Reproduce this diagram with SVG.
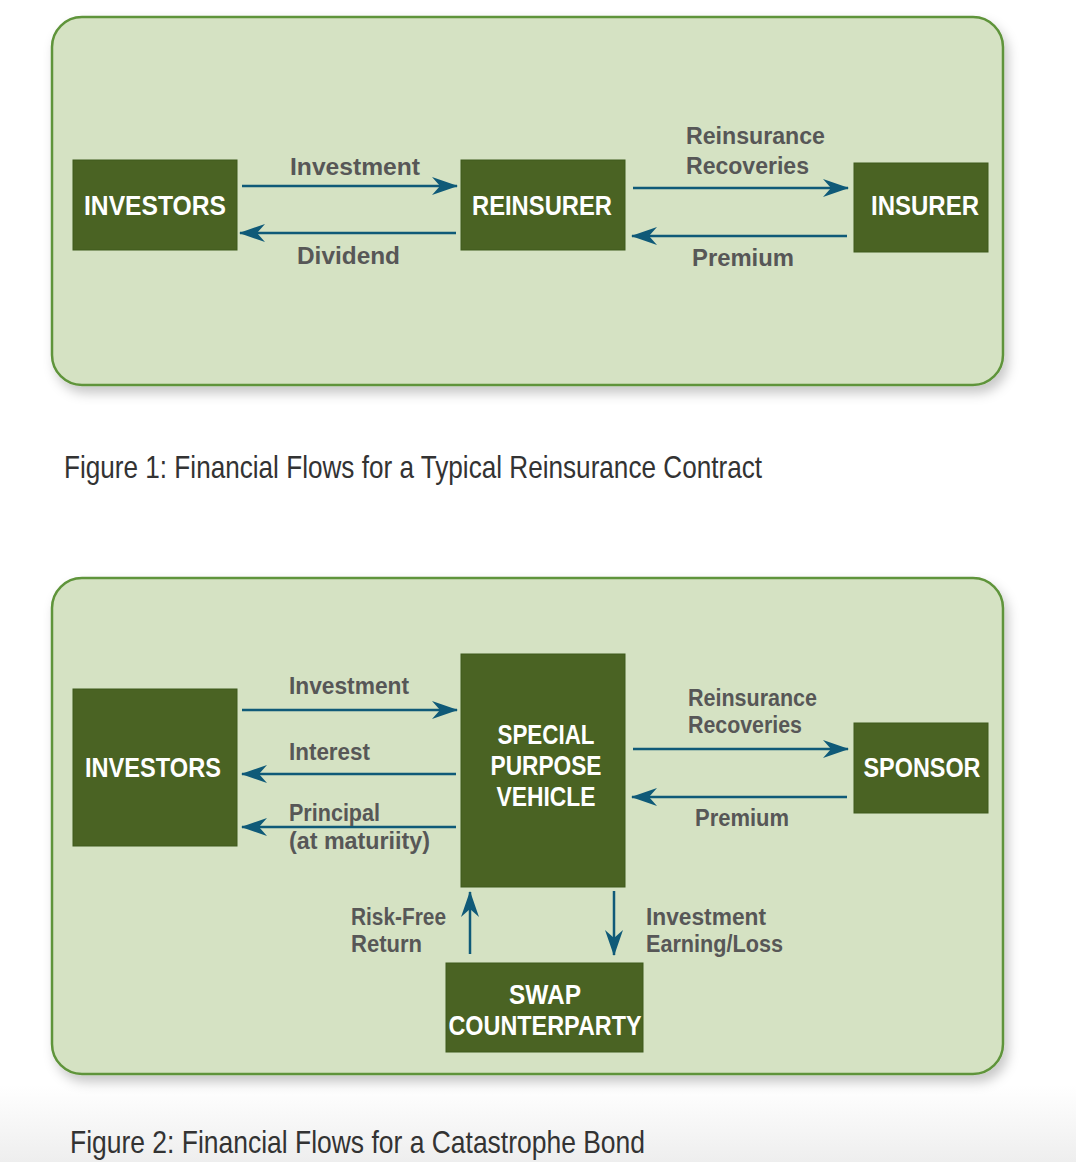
<svg xmlns="http://www.w3.org/2000/svg" width="1076" height="1162" viewBox="0 0 1076 1162">
<defs>
<linearGradient id="bg" x1="0" y1="0" x2="0" y2="1">
<stop offset="0" stop-color="#ffffff"/>
<stop offset="1" stop-color="#eeeeee"/>
</linearGradient>
<filter id="sh" x="-5%" y="-5%" width="112%" height="120%">
<feDropShadow dx="4" dy="7" stdDeviation="6" flood-color="#000" flood-opacity="0.22"/>
</filter>
<marker id="ah" viewBox="0 0 26 18" refX="25" refY="9" markerWidth="26" markerHeight="18" markerUnits="userSpaceOnUse" orient="auto">
<path d="M0,0 L26,9 L0,18 L8,9 Z" fill="#0f5a78"/>
</marker>
<style>
.panel{fill:#d5e2c3;stroke:#5f943a;stroke-width:2.5}
.node{fill:#4a6323;stroke:#3f5a1c;stroke-width:1}
.nt{font-family:"Liberation Sans","Open Sans",sans-serif;font-weight:bold;font-size:27px;fill:#ffffff;text-anchor:middle;dominant-baseline:central}
.lb{font-family:"Liberation Sans","Open Sans",sans-serif;font-weight:bold;font-size:23px;fill:#575757}
.cap{font-family:"Liberation Sans","Open Sans",sans-serif;font-size:32px;fill:#333333}
.ar{stroke:#0f5a78;stroke-width:2.5;fill:none;marker-end:url(#ah)}
</style>
</defs>
<rect x="0" y="0" width="1076" height="1162" fill="#ffffff"/>
<rect x="0" y="1085" width="1076" height="77" fill="url(#bg)"/>

<rect class="panel" x="52" y="17" width="951" height="368" rx="30" filter="url(#sh)"/>
<rect class="panel" x="52" y="578" width="951" height="496" rx="30" filter="url(#sh)"/>

<g id="connectors">
<line class="ar" x1="242" y1="186" x2="457" y2="186"/>
<line class="ar" x1="456" y1="233" x2="240" y2="233"/>
<line class="ar" x1="633" y1="188" x2="848" y2="188"/>
<line class="ar" x1="847" y1="236" x2="632" y2="236"/>

<line class="ar" x1="242" y1="710" x2="457" y2="710"/>
<line class="ar" x1="456" y1="774" x2="242" y2="774"/>
<line class="ar" x1="456" y1="827" x2="242" y2="827"/>
<line class="ar" x1="633" y1="749" x2="848" y2="749"/>
<line class="ar" x1="847" y1="797" x2="632" y2="797"/>
<line class="ar" x1="470" y1="954" x2="470" y2="892"/>
<line class="ar" x1="614" y1="891" x2="614" y2="955"/>
</g>

<g id="labels">
<text class="lb" x="290" y="175" textLength="130" lengthAdjust="spacingAndGlyphs">Investment</text>
<text class="lb" x="297" y="264" textLength="103" lengthAdjust="spacingAndGlyphs">Dividend</text>
<text class="lb" x="686" y="144" textLength="139" lengthAdjust="spacingAndGlyphs">Reinsurance</text>
<text class="lb" x="686" y="174" textLength="123" lengthAdjust="spacingAndGlyphs">Recoveries</text>
<text class="lb" x="692" y="266" textLength="102" lengthAdjust="spacingAndGlyphs">Premium</text>

<text class="lb" x="289" y="694" textLength="120" lengthAdjust="spacingAndGlyphs">Investment</text>
<text class="lb" x="289" y="760" textLength="81" lengthAdjust="spacingAndGlyphs">Interest</text>
<text class="lb" x="289" y="821" textLength="91" lengthAdjust="spacingAndGlyphs">Principal</text>
<text class="lb" x="289" y="849" textLength="141" lengthAdjust="spacingAndGlyphs">(at maturiity)</text>
<text class="lb" x="688" y="706" textLength="129" lengthAdjust="spacingAndGlyphs">Reinsurance</text>
<text class="lb" x="688" y="733" textLength="114" lengthAdjust="spacingAndGlyphs">Recoveries</text>
<text class="lb" x="695" y="826" textLength="94" lengthAdjust="spacingAndGlyphs">Premium</text>
<text class="lb" x="351" y="925" textLength="95" lengthAdjust="spacingAndGlyphs">Risk-Free</text>
<text class="lb" x="351" y="952" textLength="71" lengthAdjust="spacingAndGlyphs">Return</text>
<text class="lb" x="646" y="925" textLength="120" lengthAdjust="spacingAndGlyphs">Investment</text>
<text class="lb" x="646" y="952" textLength="137" lengthAdjust="spacingAndGlyphs">Earning/Loss</text>
</g>

<g id="investors1"><rect class="node" x="73" y="160" width="164" height="90"/><text class="nt" x="155" y="206" textLength="142" lengthAdjust="spacingAndGlyphs">INVESTORS</text></g>
<g id="reinsurer"><rect class="node" x="461" y="160" width="164" height="90"/><text class="nt" x="542" y="206" textLength="140" lengthAdjust="spacingAndGlyphs">REINSURER</text></g>
<g id="insurer"><rect class="node" x="854" y="163" width="134" height="89"/><text class="nt" x="925" y="206" textLength="108" lengthAdjust="spacingAndGlyphs">INSURER</text></g>

<g id="investors2"><rect class="node" x="73" y="689" width="164" height="157"/><text class="nt" x="153" y="768" textLength="136" lengthAdjust="spacingAndGlyphs">INVESTORS</text></g>
<g id="spv"><rect class="node" x="461" y="654" width="164" height="233"/>
<text class="nt" x="546" y="735" textLength="97" lengthAdjust="spacingAndGlyphs">SPECIAL</text>
<text class="nt" x="546" y="766" textLength="111" lengthAdjust="spacingAndGlyphs">PURPOSE</text>
<text class="nt" x="546" y="797" textLength="99" lengthAdjust="spacingAndGlyphs">VEHICLE</text></g>
<g id="sponsor"><rect class="node" x="854" y="723" width="134" height="90"/><text class="nt" x="922" y="768" textLength="117" lengthAdjust="spacingAndGlyphs">SPONSOR</text></g>
<g id="swap"><rect class="node" x="446" y="963" width="197" height="89"/>
<text class="nt" x="545" y="995" textLength="72" lengthAdjust="spacingAndGlyphs">SWAP</text>
<text class="nt" x="545" y="1026" textLength="193" lengthAdjust="spacingAndGlyphs">COUNTERPARTY</text></g>

<text class="cap" x="64" y="478" textLength="698" lengthAdjust="spacingAndGlyphs">Figure 1: Financial Flows for a Typical Reinsurance Contract</text>
<text class="cap" x="70" y="1153" textLength="575" lengthAdjust="spacingAndGlyphs">Figure 2: Financial Flows for a Catastrophe Bond</text>
</svg>
